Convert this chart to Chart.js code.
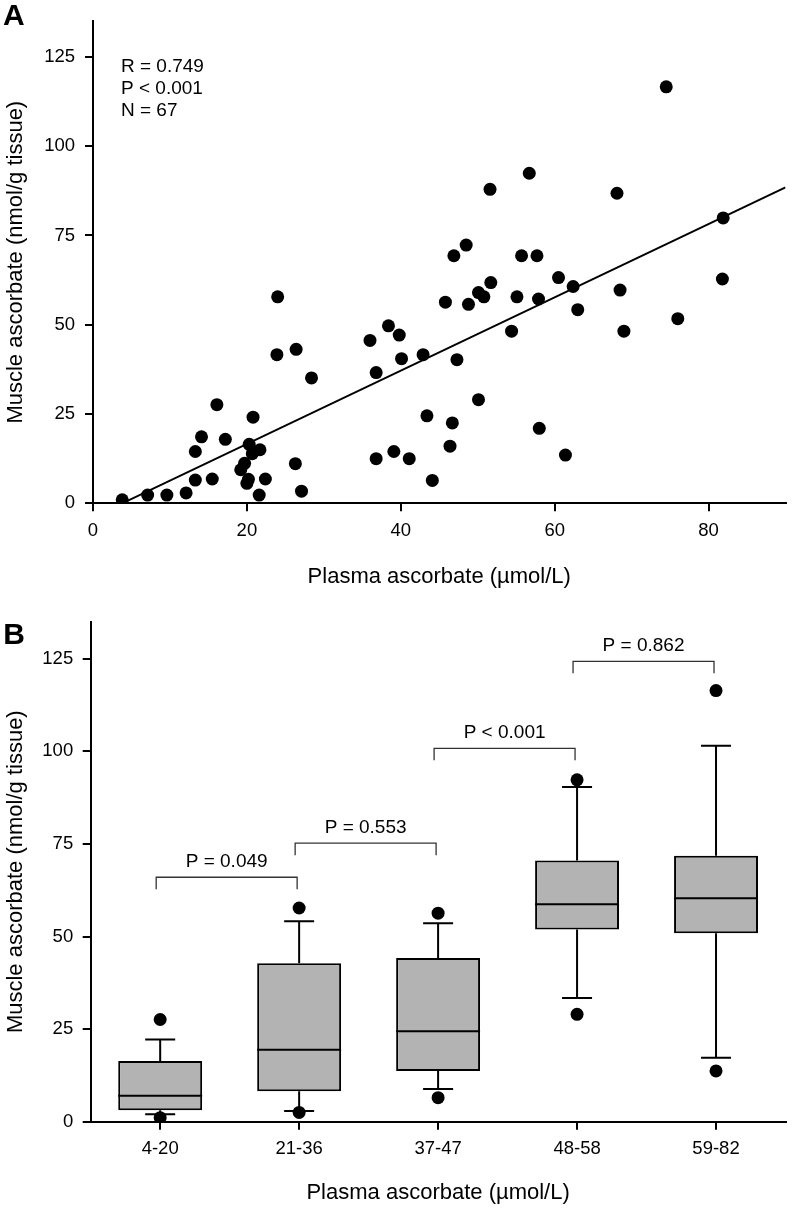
<!DOCTYPE html>
<html>
<head>
<meta charset="utf-8">
<script src="https://cdn.jsdelivr.net/npm/chart.js@4.4.0/dist/chart.umd.min.js"></script>
<style>
  html, body { margin: 0; padding: 0; background: #fff; }
  #wrap { position: relative; width: 792px; height: 1208px; }
  canvas { position: absolute; left: 0; }
  #chartA { top: 0; }
  #chartB { top: 600px; }
</style>
</head>
<body>
<div id="wrap">
  <canvas id="chartA" width="792" height="600"></canvas>
  <canvas id="chartB" width="792" height="608"></canvas>
</div>
<script>
// ===== Panel A: scatter with regression line =====
const plasma = [3.8, 7.1, 9.6, 12.1, 13.3, 13.3, 14.1, 15.5, 16.1, 17.2,
  19.2, 19.7, 20.0, 20.2, 20.3, 20.7, 20.8, 21.7, 21.6, 22.4,
  24.0, 23.9, 26.4, 26.3, 27.1, 28.4, 36.0, 36.8, 36.8, 38.4,
  39.1, 39.8, 40.1, 41.1, 42.9, 43.4, 44.1, 45.8, 46.7, 46.4,
  47.3, 48.8, 50.1, 50.1, 50.8, 51.7, 54.4, 55.1, 57.9, 58.0,
  60.5, 61.4, 62.4, 63.0, 68.5, 69.0, 76.0, 81.8, 74.5, 51.6,
  56.7, 68.1, 81.9, 46.9, 48.5, 55.7, 57.7];
const muscle = [1.0, 2.3, 2.3, 2.9, 6.5, 14.5, 18.6, 6.8, 27.6, 17.9,
  9.4, 11.2, 5.6, 6.7, 16.5, 13.9, 24.1, 15.0, 2.3, 6.8,
  57.8, 41.6, 43.1, 11.1, 3.4, 35.1, 45.6, 36.6, 12.5, 49.7,
  14.5, 47.1, 40.5, 12.5, 41.6, 24.5, 6.4, 56.3, 22.5, 16.0,
  40.2, 55.7, 29.0, 59.0, 57.8, 61.8, 48.2, 57.8, 57.2, 21.0,
  63.2, 13.5, 60.7, 54.2, 59.7, 48.2, 51.7, 62.8, 116.6, 87.9,
  92.4, 86.8, 79.9, 69.3, 72.3, 69.3, 69.3];
const fitSlope = 1.026;
const fitIntercept = -3.9;
const fitRange = [3.8, 90];
const statsText = ['R = 0.749', 'P < 0.001', 'N = 67'];
const xTicksA = [0, 20, 40, 60, 80];
const yTicks = [0, 25, 50, 75, 100, 125];

// ===== Panel B: box plot by plasma group =====
const groups = ['4-20', '21-36', '37-47', '48-58', '59-82'];
const q1 = [3.1, 8.2, 13.7, 51.9, 50.9];
const median = [7.0, 19.4, 24.4, 58.7, 60.3];
const q3 = [16.4, 42.8, 44.2, 70.5, 71.8];
const whiskerLow = [2.0, 2.9, 8.8, 33.4, 17.3];
const whiskerHigh = [22.2, 54.1, 53.6, 90.4, 101.5];
const outlierHigh = [27.6, 57.7, 56.3, 92.3, 116.4];
const outlierLow = [1.1, 2.5, 6.5, 29.0, 13.7];
const bracketFrom = [0, 1, 2, 3];
const bracketTo = [1, 2, 3, 4];
const bracketY = [66.0, 75.2, 100.8, 124.3];
const bracketText = ['P = 0.049', 'P = 0.553', 'P < 0.001', 'P = 0.862'];

const family = "'Liberation Sans', Arial, sans-serif";
const tickFont = { family, size: 18.5 };
const titleFont = { family, size: 22 };

function axisBase() {
  return {
    grid: { display: true, drawOnChartArea: false, drawTicks: true, tickLength: 8, lineWidth: 2, color: '#000' },
    border: { display: true, color: '#000', width: 2 },
  };
}

// ---- Panel A ----
const panelAText = {
  id: 'panelAText',
  afterDraw(chart) {
    const { ctx, chartArea } = chart;
    ctx.save();
    ctx.fillStyle = '#000';
    ctx.textBaseline = 'alphabetic';
    ctx.font = 'bold 30px ' + family;
    ctx.fillText('A', 3, 24.5);
    ctx.font = '19px ' + family;
    statsText.forEach((t, i) => ctx.fillText(t, chartArea.left + 28, 72.3 + i * 21.9));
    ctx.restore();
  }
};

new Chart(document.getElementById('chartA'), {
  type: 'scatter',
  data: {
    datasets: [
      {
        type: 'scatter',
        data: plasma.map((x, i) => ({ x, y: muscle[i] })),
        pointRadius: 6.5,
        backgroundColor: '#000',
        borderWidth: 0,
        order: 0
      },
      {
        type: 'line',
        data: fitRange.map(x => ({ x, y: fitIntercept + fitSlope * x })),
        borderColor: '#000',
        borderWidth: 2,
        pointRadius: 0,
        fill: false,
        order: 1
      }
    ]
  },
  options: {
    responsive: false,
    animation: false,
    events: [],
    layout: { padding: { top: 3.3, right: 3.7, left: 0, bottom: 0 } },
    plugins: { legend: { display: false }, tooltip: { enabled: false } },
    scales: {
      x: {
        ...axisBase(),
        type: 'linear', min: 0, max: 90,
        afterBuildTicks: s => { s.ticks = xTicksA.map(v => ({ value: v })); },
        afterFit: s => { s.height = 96.7; },
        ticks: { color: '#000', font: tickFont, padding: 9, maxRotation: 0 },
        title: { display: true, text: 'Plasma ascorbate (µmol/L)', color: '#000', font: titleFont, padding: { top: 0, bottom: 9.8 } }
      },
      y: {
        ...axisBase(),
        type: 'linear', min: 0, max: 135,
        afterBuildTicks: s => { s.ticks = yTicks.map(v => ({ value: v })); },
        afterFit: s => { s.width = 93; },
        ticks: { color: '#000', font: tickFont, padding: 10 },
        title: { display: true, text: 'Muscle ascorbate (nmol/g tissue)', color: '#000', font: titleFont, padding: { top: 2.5, bottom: 0 } }
      }
    }
  },
  plugins: [panelAText]
});

// ---- Panel B ----
const boxExtras = {
  id: 'boxExtras',
  beforeDatasetsDraw(chart) {
    const { ctx } = chart;
    const xs = chart.scales.x, ys = chart.scales.y;
    ctx.save();
    ctx.strokeStyle = '#000';
    ctx.lineWidth = 2;
    groups.forEach((g, i) => {
      const x = xs.getPixelForValue(i);
      [[q3[i], whiskerHigh[i]], [q1[i], whiskerLow[i]]].forEach(([from, to]) => {
        const y0 = ys.getPixelForValue(from), y1 = ys.getPixelForValue(to);
        ctx.beginPath();
        ctx.moveTo(x, y0); ctx.lineTo(x, y1);
        ctx.moveTo(x - 15, y1); ctx.lineTo(x + 15, y1);
        ctx.stroke();
      });
    });
    ctx.restore();
  },
  afterDatasetsDraw(chart) {
    const { ctx } = chart;
    const xs = chart.scales.x, ys = chart.scales.y;
    const meta = chart.getDatasetMeta(2);
    ctx.save();
    // medians
    ctx.strokeStyle = '#000';
    ctx.lineWidth = 2;
    meta.data.forEach((bar, i) => {
      const { x, width } = bar.getProps(['x', 'width'], true);
      const y = ys.getPixelForValue(median[i]);
      ctx.beginPath();
      ctx.moveTo(x - width / 2, y); ctx.lineTo(x + width / 2, y);
      ctx.stroke();
    });
    // significance brackets
    ctx.strokeStyle = '#333';
    ctx.lineWidth = 1.3;
    ctx.fillStyle = '#000';
    ctx.font = '19px ' + family;
    ctx.textAlign = 'center';
    ctx.textBaseline = 'alphabetic';
    bracketY.forEach((v, i) => {
      const x0 = xs.getPixelForValue(bracketFrom[i]) - 4;
      const x1 = xs.getPixelForValue(bracketTo[i]) - 2;
      const y = ys.getPixelForValue(v);
      ctx.beginPath();
      ctx.moveTo(x0, y + 12); ctx.lineTo(x0, y); ctx.lineTo(x1, y); ctx.lineTo(x1, y + 12);
      ctx.stroke();
      ctx.fillText(bracketText[i], (x0 + x1) / 2, y - 10);
    });
    ctx.textAlign = 'left';
    ctx.font = 'bold 30px ' + family;
    ctx.fillText('B', 3.3, 43.5);
    ctx.restore();
  }
};

const outlierStyle = { type: 'line', showLine: false, pointRadius: 6.5, backgroundColor: '#000', borderColor: '#000', borderWidth: 0, order: 0 };

new Chart(document.getElementById('chartB'), {
  type: 'bar',
  data: {
    labels: groups,
    datasets: [
      { ...outlierStyle, data: outlierHigh },
      { ...outlierStyle, data: outlierLow },
      {
        type: 'bar',
        data: groups.map((g, i) => [q1[i], q3[i]]),
        backgroundColor: '#b3b3b3',
        borderColor: '#000',
        borderWidth: 2,
        borderSkipped: false,
        barPercentage: 1,
        categoryPercentage: 0.604,
        order: 2
      }
    ]
  },
  options: {
    responsive: false,
    animation: false,
    events: [],
    layout: { padding: { top: 21.7, right: 6, left: 0, bottom: 0 } },
    plugins: { legend: { display: false }, tooltip: { enabled: false } },
    scales: {
      x: {
        ...axisBase(),
        grid: { ...axisBase().grid, offset: false },
        afterFit: s => { s.height = 86.3; },
        ticks: { color: '#000', font: tickFont, padding: 8, maxRotation: 0 },
        title: { display: true, text: 'Plasma ascorbate (µmol/L)', color: '#000', font: titleFont, padding: { top: 0, bottom: 1.8 } }
      },
      y: {
        ...axisBase(),
        type: 'linear', min: 0, max: 135,
        afterBuildTicks: s => { s.ticks = yTicks.map(v => ({ value: v })); },
        afterFit: s => { s.width = 90.7; },
        ticks: { color: '#000', font: tickFont, padding: 9.5 },
        title: { display: true, text: 'Muscle ascorbate (nmol/g tissue)', color: '#000', font: titleFont, padding: { top: 2.5, bottom: 0 } }
      }
    }
  },
  plugins: [boxExtras]
});
</script>
</body>
</html>
